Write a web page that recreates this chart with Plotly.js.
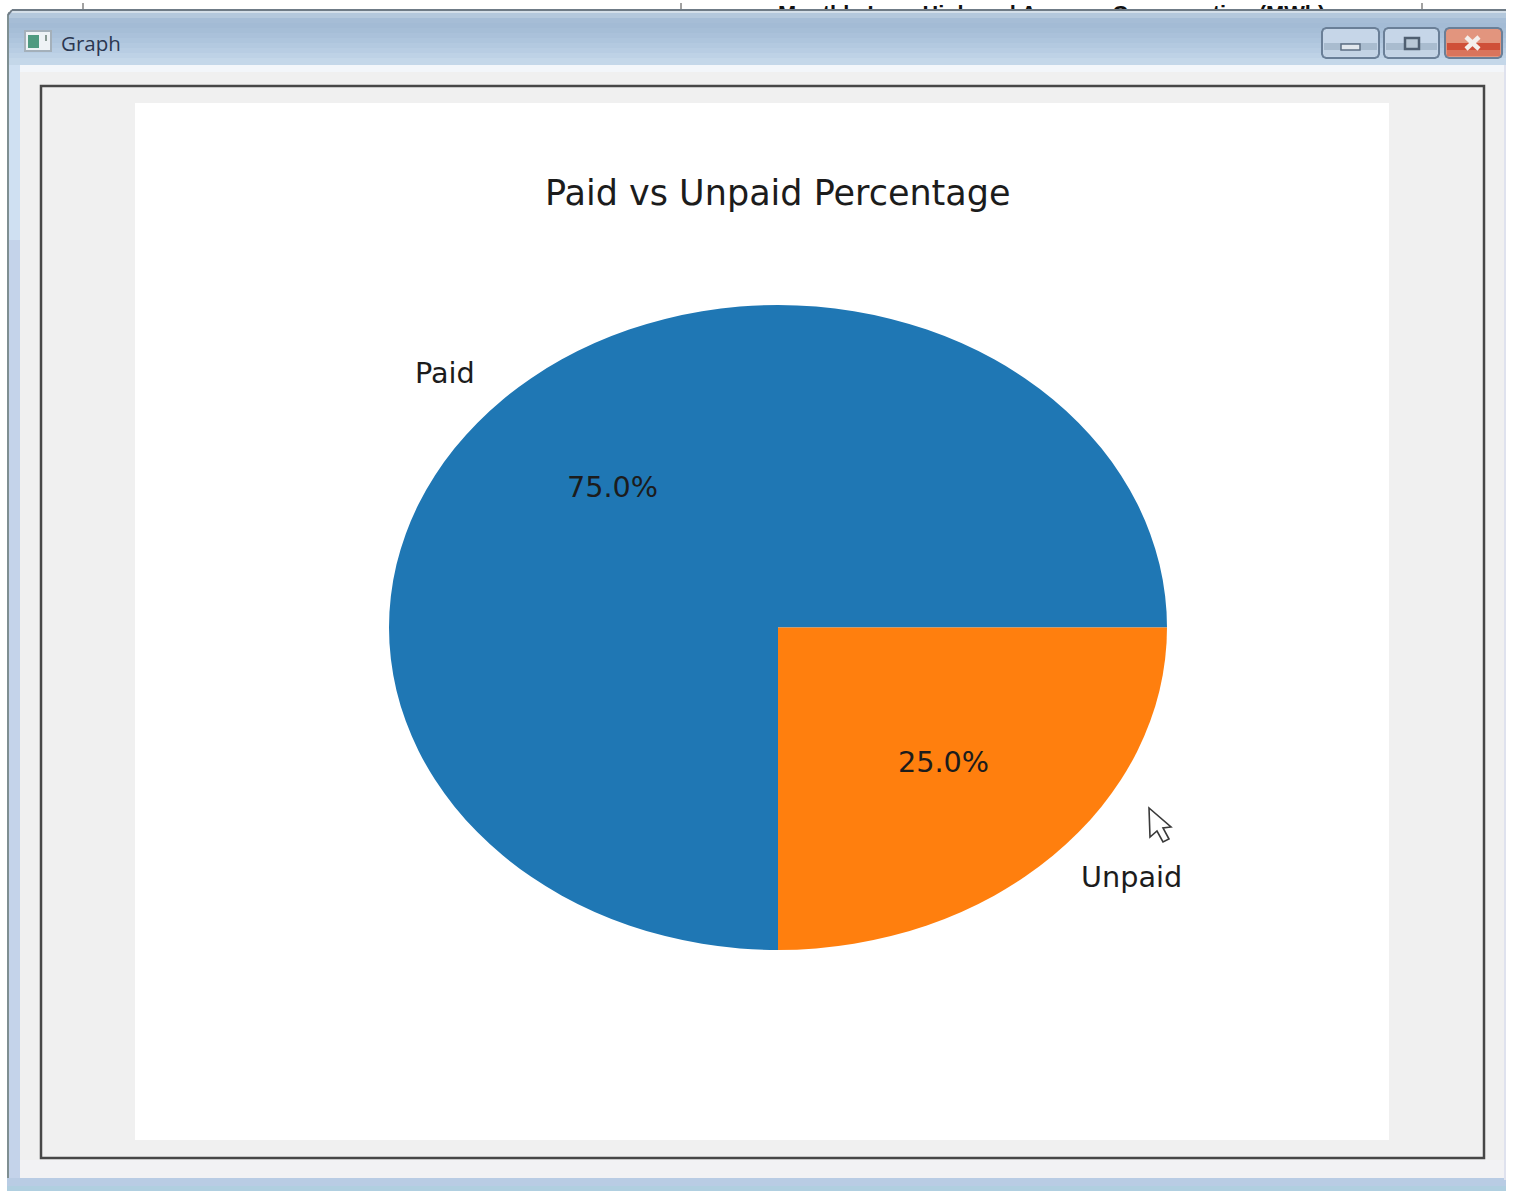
<!DOCTYPE html>
<html>
<head>
<meta charset="utf-8">
<script src="https://cdn.plot.ly/plotly-3.0.1.min.js"></script>
<style>html,body{margin:0;padding:0;background:#fff;overflow:hidden}</style>
</head>
<body>
<div id="chart" style="width:1514px;height:1191px"></div>
<script>
const categories = ["Paid", "Unpaid"];
const values = [75, 25];
const sliceColors = ["#1f77b4", "#ff7f0e"];
const chartTitle = "Paid vs Unpaid Percentage";
const windowTitle = "Graph";
const behindWindowTitle = "Monthly Low, High and Average Consumption (MWh)";

const W = 1514, H = 1191;
const px = x => x / W, py = y => 1 - y / H;
const rect = (x0, y0, x1, y1, fill, extra) => Object.assign({
  type: "rect", xref: "paper", yref: "paper", layer: "below",
  x0: px(x0), x1: px(x1), y0: py(y0), y1: py(y1),
  fillcolor: fill, line: {width: 0}
}, extra || {});
const seg = (x0, y0, x1, y1, color, width, layer) => ({
  type: "line", xref: "paper", yref: "paper", layer: layer || "below",
  x0: px(x0), x1: px(x1), y0: py(y0), y1: py(y1),
  line: {color: color, width: width}
});
const poly = (pts, fill, lineColor, lineWidth, layer) => ({
  type: "path", xref: "paper", yref: "paper", layer: layer || "below",
  path: "M" + pts.map(p => px(p[0]).toFixed(5) + "," + py(p[1]).toFixed(5)).join("L") + "Z",
  fillcolor: fill, line: {color: lineColor, width: lineWidth}
});
const rounded = (x0, y0, x1, y1, r, fill, lineColor, lineWidth) => poly([
  [x0 + r, y0], [x1 - r, y0], [x1 - r * 0.3, y0 + r * 0.3], [x1, y0 + r],
  [x1, y1 - r], [x1 - r * 0.3, y1 - r * 0.3], [x1 - r, y1], [x0 + r, y1],
  [x0 + r * 0.3, y1 - r * 0.3], [x0, y1 - r], [x0, y0 + r], [x0 + r * 0.3, y0 + r * 0.3]
], fill, lineColor, lineWidth);
const label = (text, x, y, size, color, anchor, weight, family) => ({
  text: text, xref: "paper", yref: "paper", x: px(x), y: py(y),
  xanchor: anchor || "center", yanchor: "middle", showarrow: false,
  font: {family: family || "DejaVu Sans, sans-serif", size: size, color: color || "#1c1c1c", weight: weight || 400}
});

const shapes = [];
// strip of the window behind
shapes.push(rect(0, 9, W, H, "#ffffff"));
[83, 681, 1422].forEach(x => shapes.push(seg(x, 3, x, 10, "#444444", 1)));
// window border and title bar
shapes.push(rect(7, 12, 1506, 1191, "#c4d3ea"));
shapes.push(rect(7, 12, 9, 1180, "#7f8f92"));
shapes.push(rect(9, 65, 20, 240, "#cfe0f2"));
const barBands = ["#b4c8dc", "#a6bdd6", "#a3bbd5", "#a6bed7", "#aac1da", "#aec5dd", "#b3c9e0", "#b8cde3", "#bed2e6", "#c4d7e9"];
barBands.forEach((c, i) => shapes.push(rect(9, 13 + i * 5, 1506, 13 + (i + 1) * 5 + (i === 9 ? 2 : 0), c)));
shapes.push(rect(12, 9, 1506, 11, "#6f7b86"));
shapes.push(rect(12, 11, 1506, 13, "#d4dfe9"));
shapes.push(poly([[7, 9], [12, 9], [9, 11], [7, 15]], "#ffffff", "#ffffff", 0));
shapes.push(seg(12, 10, 8, 15, "#6f7b86", 2));
// client area
shapes.push(rect(20, 65, 1504, 1178, "#f0f0f0"));
shapes.push(rect(20, 65, 1504, 72, "#f3f6fa"));
shapes.push(rect(20, 1160, 1504, 1178, "#f2f2f4"));
shapes.push(rect(7, 1178, 1506, 1191, "#b9cce4"));
shapes.push(rect(7, 1186, 1506, 1191, "#b0cfe0"));
shapes.push(rect(1504, 65, 1506, 1180, "#dfe2ee"));
shapes.push(rect(41, 86, 1484, 1158, "#f0f0f0", {line: {color: "#474747", width: 2.5}}));
shapes.push(rect(135, 103, 1389, 1140, "#ffffff"));
// app icon
shapes.push(rect(25, 31, 51, 51, "#eef2f5", {line: {color: "#a4b0ba", width: 2}}));
shapes.push(rect(28, 35, 39, 48, "#4f9a80"));
shapes.push(rect(45, 35, 47, 41, "#8a9a94"));
// window buttons
[[1322, 1379, "#c6d6e8", "#a9bccf", "#c3d3e4"], [1384, 1439, "#c6d6e8", "#a9bccf", "#c3d3e4"], [1445, 1502, "#e2957e", "#cf4f38", "#d9745c"]].forEach(b => {
  shapes.push(rounded(b[0], 28, b[1], 58, 4, b[2], "#6a7f97", 2));
  shapes.push(rect(b[0] + 2, 43, b[1] - 2, 50, b[3]));
  shapes.push(rect(b[0] + 2, 50, b[1] - 2, 56, b[4]));
});
shapes.push(rect(1341, 44, 1360, 50, "#e2e8ee", {line: {color: "#5e6f84", width: 1.5}}));
shapes.push(rect(1405, 38, 1419, 49, "#b9c8d6", {line: {color: "#4f5f71", width: 2.5}}));
shapes.push(seg(1466, 37, 1479, 49, "#f4efec", 4.5));
shapes.push(seg(1479, 37, 1466, 49, "#f4efec", 4.5));
// mouse pointer over the plot
shapes.push(poly([[1149, 808], [1150, 837], [1157, 831], [1163, 842], [1169, 839], [1163, 828], [1171, 827]], "#ffffff", "#3a3a3a", 1.6, "above"));

const total = values.reduce((a, b) => a + b, 0);
const pct = v => (v / total * 100).toFixed(1) + "%";

const annotations = [
  label(chartTitle, 778, 193, 35),
  label(categories[0], 444.5, 373, 28.7),
  label(categories[1], 1131.5, 877, 28.7),
  label(pct(values[0]), 612.5, 487, 28.7),
  label(pct(values[1]), 943, 762, 28.7),
  label(windowTitle, 59, 43, 20.5, "#2b3650", "left", 400, "Open Sans, sans-serif"),
  label(behindWindowTitle, 1051, 13, 21.8, "#111111", "center", 700, "Liberation Sans, sans-serif")
];

const trace = {
  type: "pie",
  labels: categories,
  values: values,
  sort: false,
  direction: "counterclockwise",
  rotation: 180,
  textinfo: "none",
  hoverinfo: "skip",
  showlegend: false,
  marker: {colors: sliceColors, line: {width: 0}},
  domain: {x: [px(389), px(1167)], y: [py(1016.5), py(238.5)]}
};

const layout = {
  width: W, height: H,
  margin: {l: 0, r: 0, t: 0, b: 0},
  paper_bgcolor: "#ffffff",
  showlegend: false,
  shapes: shapes,
  annotations: annotations
};

Plotly.newPlot("chart", [trace], layout, {displayModeBar: false, staticPlot: true}).then(gd => {
  // The reference pie was stretched by its window: squash the circle vertically.
  const k = 645 / 778;
  const g = gd.querySelector(".pielayer .trace");
  const b = g.getBBox();
  const cy = b.y + b.height / 2;
  g.setAttribute("transform", "translate(0," + cy + ") scale(1," + k + ") translate(0," + (-cy) + ")");
  // The window behind sits under our window's top edge.
  const notes = gd.querySelectorAll(".annotation");
  const behind = notes[notes.length - 1];
  const below = gd.querySelector(".layer-below .shapelayer");
  if (behind && below) below.insertBefore(behind, below.firstChild);
});
</script>
</body>
</html>
